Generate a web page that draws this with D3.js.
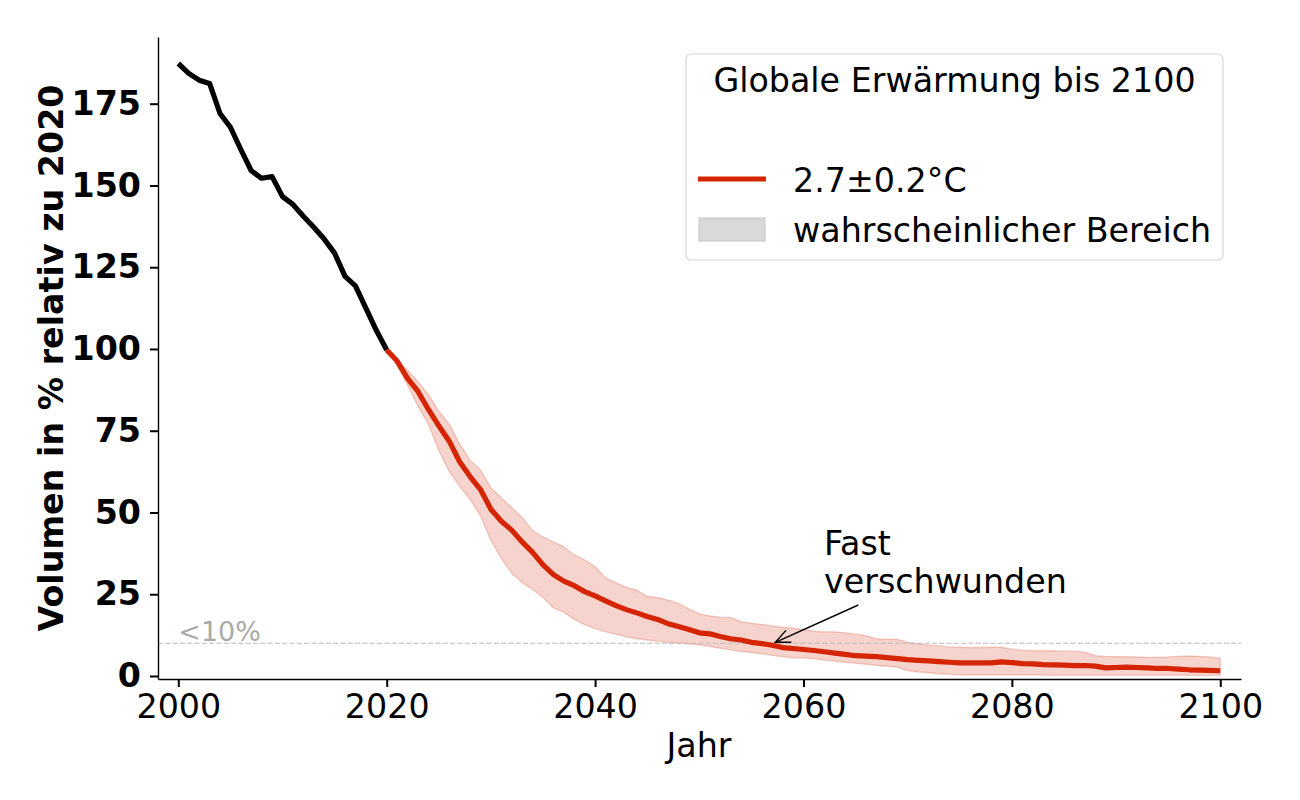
<!DOCTYPE html>
<html>
<head>
<meta charset="utf-8">
<script src="https://cdn.jsdelivr.net/npm/d3@7"></script>
<style>
  html, body { margin: 0; padding: 0; background: #fff; }
  svg { display: block; }
  text { font-family: "DejaVu Sans", sans-serif; }
</style>
</head>
<body>
<svg id="chart" width="1300" height="800"></svg>
<script>
// ---------------- DATA ----------------
const histStartYear = 2000;
const histValues = [187.3, 184.3, 182.2, 181.2, 172.0, 167.8, 161.0, 154.5, 152.2, 152.7,
  146.6, 144.2, 140.6, 137.2, 133.6, 129.3, 122.2, 119.3, 112.5, 105.7, 99.7];

const projStartYear = 2020;
const projMedian = [99.7, 96.3, 91.0, 87.0, 81.5, 76.5, 71.8, 65.5, 61.0, 57.0,
  51.0, 47.3, 44.6, 41.0, 37.8, 34.0, 31.0, 29.0, 27.6, 25.8,
  24.5, 23.0, 21.5, 20.3, 19.3, 18.2, 17.3, 16.0, 15.1, 14.2,
  13.2, 12.9, 12.1, 11.4, 11.0, 10.3, 9.9, 9.4, 8.7, 8.4,
  8.1, 7.8, 7.4, 7.0, 6.6, 6.2, 6.1, 5.9, 5.6, 5.3,
  5.0, 4.8, 4.6, 4.4, 4.2, 4.0, 4.0, 4.0, 4.0, 4.3,
  4.1, 3.8, 3.7, 3.5, 3.4, 3.3, 3.2, 3.2, 3.0, 2.5,
  2.6, 2.7, 2.6, 2.5, 2.3, 2.3, 2.1, 1.9, 1.8, 1.7, 1.6];
const projUpper = [99.7, 96.5, 93.5, 90.0, 86.0, 81.0, 77.0, 71.0, 66.0, 63.0,
  57.5, 54.5, 51.5, 48.5, 44.5, 42.5, 41.0, 39.5, 37.0, 35.5,
  33.5, 30.0, 28.5, 27.1, 26.3, 24.3, 24.0, 23.2, 22.2, 20.5,
  19.0, 18.4, 18.0, 17.9, 16.6, 16.1, 15.8, 15.3, 14.9, 14.6,
  14.2, 13.7, 13.5, 13.5, 13.2, 12.8, 12.3, 11.4, 11.2, 11.2,
  10.3, 9.8, 9.5, 9.2, 8.9, 8.8, 8.7, 8.7, 8.8, 8.8,
  8.2, 7.9, 7.7, 7.7, 7.7, 7.6, 7.6, 7.3, 6.2, 6.0,
  5.9, 5.9, 5.8, 5.7, 5.7, 5.8, 6.0, 6.1, 6.0, 5.8, 5.4];
const projLower = [99.7, 95.0, 89.0, 82.5, 77.0, 69.0, 62.5, 58.0, 54.0, 49.0,
  41.5, 36.0, 31.4, 28.5, 26.5, 24.0, 20.8, 19.5, 17.3, 15.7,
  14.5, 13.5, 12.8, 12.0, 11.4, 11.0, 10.6, 10.3, 10.1, 9.8,
  9.5, 9.0, 8.5, 8.0, 7.5, 7.2, 6.8, 6.3, 5.9, 5.6,
  5.5, 5.3, 4.9, 4.6, 4.2, 3.9, 3.6, 3.3, 3.0, 2.7,
  1.6, 1.2, 1.0, 0.7, 0.5, 0.4, 0.3, 0.3, 0.3, 0.3,
  0.3, 0.3, 0.3, 0.3, 0.2, 0.2, 0.2, 0.2, 0.2, 0.2,
  0.2, 0.2, 0.2, 0.2, 0.2, 0.2, 0.2, 0.2, 0.2, 0.2, 0.2];

const xTicks = [2000, 2020, 2040, 2060, 2080, 2100];
const yTicks = [0, 25, 50, 75, 100, 125, 150, 175];
const thresholdValue = 10;
const thresholdLabel = "<10%";
const annotationLines = ["Fast", "verschwunden"];
const annotationPoint = [2057.3, 10.3];
const legendTitle = "Globale Erwärmung bis 2100";
const legendLabels = ["2.7±0.2°C", "wahrscheinlicher Bereich"];
const xLabel = "Jahr";
const yLabel = "Volumen in % relativ zu 2020";

// ---------------- BUILD ----------------
const hist = histValues.map((v, i) => ({ year: histStartYear + i, v }));
const proj = projMedian.map((v, i) => ({ year: projStartYear + i, v, lo: projLower[i], hi: projUpper[i] }));

const RED = "#d42400";
const FS = 33.3;

const svg = d3.select("#chart");
const x = d3.scaleLinear().domain([1998.05, 2101.99]).range([158, 1241]);
const y = d3.scaleLinear().domain([-0.92, 195.4]).range([679, 37]);

// band
svg.append("path")
  .datum(proj)
  .attr("d", d3.area().x(d => x(d.year)).y0(d => y(d.lo)).y1(d => y(d.hi)))
  .attr("fill", RED).attr("fill-opacity", 0.2)
  .attr("stroke", RED).attr("stroke-opacity", 0.2).attr("stroke-width", 1.4);

// threshold
svg.append("line")
  .attr("x1", x.range()[0]).attr("x2", x.range()[1])
  .attr("y1", y(thresholdValue)).attr("y2", y(thresholdValue))
  .attr("stroke", "#bbbbbb").attr("stroke-width", 1.1)
  .attr("stroke-dasharray", "5.1,2.2");
svg.append("text")
  .attr("x", x(2000)).attr("y", y(thresholdValue) - 1.8)
  .attr("font-size", 27).attr("fill", "#aaaaaa")
  .text(thresholdLabel);

const line = d3.line().x(d => x(d.year)).y(d => y(d.v));
svg.append("path").datum(hist).attr("d", line)
  .attr("fill", "none").attr("stroke", "#000").attr("stroke-width", 5.2)
  .attr("stroke-linejoin", "round").attr("stroke-linecap", "butt");
svg.append("path").datum(proj).attr("d", line)
  .attr("fill", "none").attr("stroke", RED).attr("stroke-width", 5.2)
  .attr("stroke-linejoin", "round").attr("stroke-linecap", "butt");

// axes
const xAxis = svg.append("g").attr("transform", `translate(0,${y.range()[0]})`)
  .call(d3.axisBottom(x).tickValues(xTicks).tickFormat(d3.format("d"))
    .tickSize(8).tickSizeOuter(0).tickPadding(7.4));
const yAxis = svg.append("g").attr("transform", `translate(${x.range()[0]},0)`)
  .call(d3.axisLeft(y).tickValues(yTicks).tickFormat(d3.format("d"))
    .tickSize(8).tickSizeOuter(0).tickPadding(9));
[xAxis, yAxis].forEach(g => {
  g.select(".domain").attr("stroke", "#000").attr("stroke-width", 1.4);
  g.selectAll(".tick line").attr("stroke", "#000").attr("stroke-width", 2);
  g.selectAll(".tick text").attr("fill", "#000").attr("font-size", FS)
    .attr("font-family", "DejaVu Sans");
});
yAxis.selectAll(".tick text").attr("font-weight", "bold");

svg.append("text").attr("x", 699).attr("y", 757).attr("text-anchor", "middle")
  .attr("font-size", FS).text(xLabel);
svg.append("text").attr("transform", "translate(63,358) rotate(-90)")
  .attr("text-anchor", "middle").attr("font-size", FS).attr("font-weight", "bold")
  .text(yLabel);

// annotation
const ann = svg.append("text").attr("x", 824).attr("y", 555).attr("font-size", FS);
annotationLines.forEach((t, i) => ann.append("tspan").attr("x", 824).attr("dy", i === 0 ? 0 : 38.3).text(t));
const tip = [x(annotationPoint[0]), y(annotationPoint[1])];
const start = [858.3, 605];
svg.append("line").attr("x1", start[0]).attr("y1", start[1]).attr("x2", tip[0]).attr("y2", tip[1])
  .attr("stroke", "#000").attr("stroke-width", 1.4);
const ang = Math.atan2(start[1] - tip[1], start[0] - tip[0]);
const hl = 16, ha = 0.42;
svg.append("path")
  .attr("d", `M${tip[0] + hl * Math.cos(ang - ha)},${tip[1] + hl * Math.sin(ang - ha)} L${tip[0]},${tip[1]} L${tip[0] + hl * Math.cos(ang + ha)},${tip[1] + hl * Math.sin(ang + ha)}`)
  .attr("fill", "none").attr("stroke", "#000").attr("stroke-width", 1.4);

// legend
const lg = svg.append("g");
lg.append("rect").attr("x", 686).attr("y", 54).attr("width", 537).attr("height", 206)
  .attr("rx", 5).attr("fill", "#fff").attr("fill-opacity", 0.8)
  .attr("stroke", "#d6d6d6").attr("stroke-width", 1.2);
lg.append("text").attr("x", 954.5).attr("y", 92).attr("text-anchor", "middle")
  .attr("font-size", FS).text(legendTitle);
lg.append("line").attr("x1", 698).attr("x2", 766).attr("y1", 179).attr("y2", 179)
  .attr("stroke", RED).attr("stroke-width", 5.2);
lg.append("text").attr("x", 793).attr("y", 192).attr("font-size", FS).text(legendLabels[0]);
lg.append("rect").attr("x", 699).attr("y", 218).attr("width", 66).attr("height", 23)
  .attr("fill", "#d9d9d9").attr("stroke", "#c4c4c4").attr("stroke-width", 1);
lg.append("text").attr("x", 793).attr("y", 242).attr("font-size", FS).text(legendLabels[1]);
</script>
</body>
</html>
